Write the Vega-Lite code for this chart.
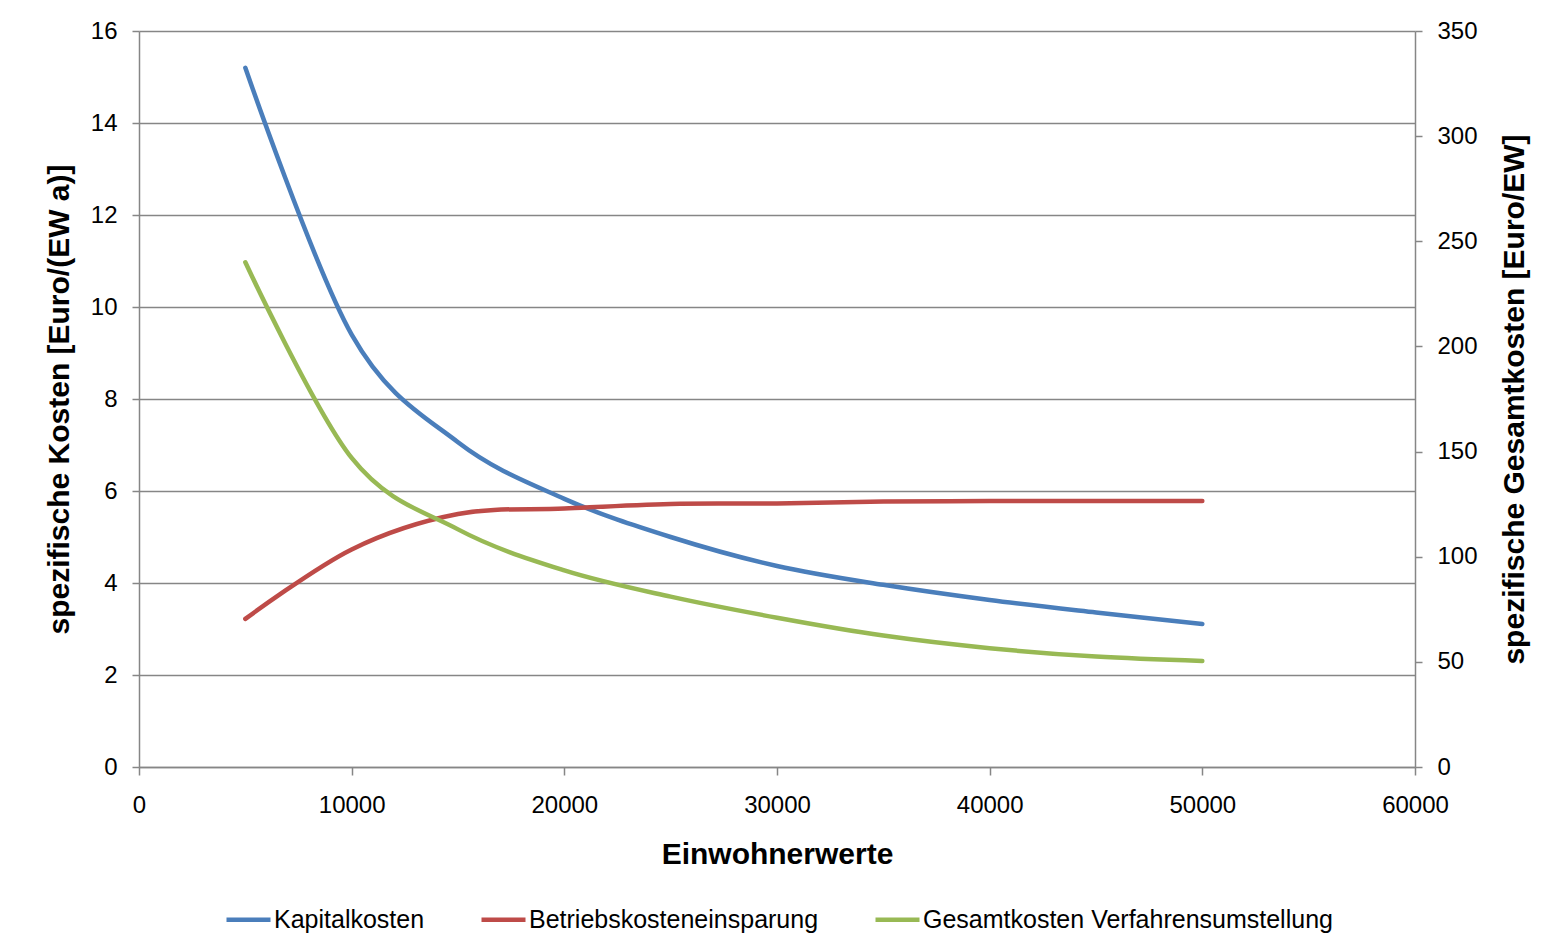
{
  "$schema": "https://vega.github.io/schema/vega-lite/v6.json",
  "width": 1276,
  "height": 736,
  "autosize": {"type": "none"},
  "padding": {"left": 139, "top": 31, "right": 134, "bottom": 179},
  "background": "white",
  "config": {
    "view": {"stroke": null},
    "font": "Liberation Sans",
    "axis": {
      "domainColor": "#868686",
      "domainWidth": 1.5,
      "tickColor": "#868686",
      "tickWidth": 1.5,
      "tickSize": 7,
      "gridColor": "#868686",
      "gridWidth": 1.5,
      "labelFont": "Liberation Sans",
      "labelFontSize": 24,
      "labelColor": "#000000",
      "labelPadding": 15,
      "titleFont": "Liberation Sans",
      "titleFontSize": 30,
      "titleFontWeight": "bold",
      "titleColor": "#000000"
    },
    "legend": {
      "orient": "none",
      "legendX": 85,
      "legendY": 864,
      "direction": "horizontal",
      "symbolType": "stroke",
      "symbolSize": 1936,
      "symbolStrokeWidth": 4.5,
      "labelFont": "Liberation Sans",
      "labelFontSize": 25,
      "labelColor": "#000000",
      "labelLimit": 0,
      "labelOffset": 1,
      "columnPadding": 47
    }
  },
  "data": {
    "values": [
      {"ew": 5000, "serie": "Kapitalkosten", "wert": 15.2},
      {"ew": 10000, "serie": "Kapitalkosten", "wert": 9.4},
      {"ew": 15000, "serie": "Kapitalkosten", "wert": 7.06},
      {"ew": 20000, "serie": "Kapitalkosten", "wert": 5.83},
      {"ew": 25000, "serie": "Kapitalkosten", "wert": 5.0},
      {"ew": 30000, "serie": "Kapitalkosten", "wert": 4.37},
      {"ew": 35000, "serie": "Kapitalkosten", "wert": 3.96},
      {"ew": 40000, "serie": "Kapitalkosten", "wert": 3.63},
      {"ew": 45000, "serie": "Kapitalkosten", "wert": 3.36},
      {"ew": 50000, "serie": "Kapitalkosten", "wert": 3.11},
      {"ew": 5000, "serie": "Betriebskosteneinsparung", "wert": 3.22},
      {"ew": 10000, "serie": "Betriebskosteneinsparung", "wert": 4.73},
      {"ew": 15000, "serie": "Betriebskosteneinsparung", "wert": 5.5},
      {"ew": 20000, "serie": "Betriebskosteneinsparung", "wert": 5.62},
      {"ew": 25000, "serie": "Betriebskosteneinsparung", "wert": 5.72},
      {"ew": 30000, "serie": "Betriebskosteneinsparung", "wert": 5.73},
      {"ew": 35000, "serie": "Betriebskosteneinsparung", "wert": 5.77},
      {"ew": 40000, "serie": "Betriebskosteneinsparung", "wert": 5.78},
      {"ew": 45000, "serie": "Betriebskosteneinsparung", "wert": 5.78},
      {"ew": 50000, "serie": "Betriebskosteneinsparung", "wert": 5.78},
      {"ew": 5000, "serie": "Gesamtkosten Verfahrensumstellung", "wert": 240},
      {"ew": 10000, "serie": "Gesamtkosten Verfahrensumstellung", "wert": 147},
      {"ew": 15000, "serie": "Gesamtkosten Verfahrensumstellung", "wert": 113},
      {"ew": 20000, "serie": "Gesamtkosten Verfahrensumstellung", "wert": 93.5},
      {"ew": 25000, "serie": "Gesamtkosten Verfahrensumstellung", "wert": 81},
      {"ew": 30000, "serie": "Gesamtkosten Verfahrensumstellung", "wert": 71},
      {"ew": 35000, "serie": "Gesamtkosten Verfahrensumstellung", "wert": 62.5},
      {"ew": 40000, "serie": "Gesamtkosten Verfahrensumstellung", "wert": 56.5},
      {"ew": 45000, "serie": "Gesamtkosten Verfahrensumstellung", "wert": 52.5},
      {"ew": 50000, "serie": "Gesamtkosten Verfahrensumstellung", "wert": 50.4}
    ]
  },
  "encoding": {
    "x": {
      "field": "ew",
      "type": "quantitative",
      "scale": {"domain": [0, 60000], "nice": false},
      "axis": {
        "title": "Einwohnerwerte",
        "values": [0, 10000, 20000, 30000, 40000, 50000, 60000],
        "format": "d",
        "grid": false,
        "labelFlush": false,
        "labelOverlap": false,
        "tickSize": 8,
        "labelPadding": 18,
        "titlePadding": 22
      }
    },
    "color": {
      "field": "serie",
      "type": "nominal",
      "scale": {
        "domain": ["Kapitalkosten", "Betriebskosteneinsparung", "Gesamtkosten Verfahrensumstellung"],
        "range": ["#4A7EBB", "#BE4B48", "#98B954"]
      },
      "legend": {"title": null}
    }
  },
  "layer": [
    {
      "transform": [{"filter": "datum.serie !== 'Gesamtkosten Verfahrensumstellung'"}],
      "mark": {"type": "line", "interpolate": "cardinal", "strokeWidth": 4.5, "strokeCap": "round"},
      "encoding": {
        "y": {
          "field": "wert",
          "type": "quantitative",
          "scale": {"domain": [0, 16], "nice": false},
          "axis": {
            "title": "spezifische Kosten [Euro/(EW a)]",
            "orient": "left",
            "values": [0, 2, 4, 6, 8, 10, 12, 14, 16],
            "grid": true,
            "titlePadding": 16
          }
        }
      }
    },
    {
      "transform": [{"filter": "datum.serie === 'Gesamtkosten Verfahrensumstellung'"}],
      "mark": {"type": "line", "interpolate": "cardinal", "strokeWidth": 4.5, "strokeCap": "round"},
      "encoding": {
        "y": {
          "field": "wert",
          "type": "quantitative",
          "scale": {"domain": [0, 350], "nice": false},
          "axis": {
            "title": "spezifische Gesamtkosten [Euro/EW]",
            "orient": "right",
            "values": [0, 50, 100, 150, 200, 250, 300, 350],
            "grid": false,
            "titleAngle": 270,
            "titleBaseline": "top",
            "titlePadding": 22
          }
        }
      }
    }
  ],
  "resolve": {"scale": {"y": "independent"}}
}
